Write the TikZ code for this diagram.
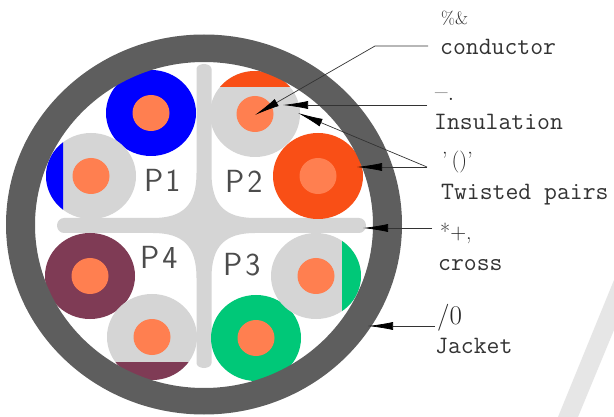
\documentclass[tikz,border=0pt]{standalone}
\usepackage{fontspec}
\usetikzlibrary{arrows.meta}
\definecolor{jacketc}{HTML}{5E5E5E}
\definecolor{crossc}{HTML}{D5D5D5}
\definecolor{coral}{HTML}{FF7F50}
\definecolor{bluec}{HTML}{0000FF}
\definecolor{redc}{HTML}{F94F16}
\definecolor{marc}{HTML}{7F3B55}
\definecolor{greenc}{HTML}{00C878}
\definecolor{markc}{HTML}{E6E6E6}
\tikzset{
 x=1pt,y=-1pt,
 ellipse radii/.style={x radius=45pt,y radius=43pt},
 core/.style={x radius=18.5pt,y radius=18pt},
 leader/.style={line width=0.7pt,black!80},
 tip/.style={-{Latex[length=25pt,width=8pt,black]}},
 lab/.style={anchor=base west,inner sep=0pt,text=black!80,font=\ttfamily\fontsize{25}{25}\selectfont},
 gar/.style={anchor=base west,inner sep=0pt,text=black!85,font=\rmfamily\fontsize{22}{22}\selectfont},
 pl/.style={anchor=base west,inner sep=0pt,text=black!70,font=\sffamily\fontsize{32}{32}\selectfont},
}
\newcommand{\fullpair}[3]{%
 \fill[#3] (#1,#2) ellipse [ellipse radii];
 \fill[coral] (#1,#2) ellipse [core];}
\begin{document}
\begin{tikzpicture}
\useasboundingbox (0,0) rectangle (614,417);
\fill[white] (0,0) rectangle (614,417);
\fill[markc] (558,417) -- (614,280) -- (614,330) -- (578,417) -- cycle;
% cross spacer
\fill[crossc] (204,226) ++(-7.5,-157)
  arc[start angle=180,end angle=0,x radius=7.5pt,y radius=5pt]
  -- (211.5,173) .. controls (211.5,205) and (225,218) .. (255,218)
  -- (359,218) arc[start angle=90,end angle=-90,x radius=7pt,y radius=7.5pt]
  -- (255,233) .. controls (225,233) and (211.5,246) .. (211.5,278)
  -- (211.5,363) arc[start angle=0,end angle=-180,x radius=7.5pt,y radius=5pt]
  -- (196.5,278) .. controls (196.5,246) and (183,233) .. (153,233)
  -- (64,233) arc[start angle=270,end angle=90,x radius=7pt,y radius=7.5pt]
  -- (153,218) .. controls (183,218) and (196.5,205) .. (196.5,173) -- cycle;
% pairs
\fullpair{151}{113}{bluec}
\fullpair{318}{176}{redc}
\fullpair{90}{276}{marc}
\fullpair{256}{338}{greenc}
% gray P1
\fill[crossc] (91,176) ellipse [ellipse radii];
\begin{scope}\clip (0,0) rectangle (63,417);\fill[bluec] (91,176) ellipse [ellipse radii];\end{scope}
\fill[coral] (91,176) ellipse [core];
% gray P2
\fill[crossc] (255,114) ellipse [ellipse radii];
\begin{scope}\clip (0,0) rectangle (614,87);\fill[redc] (255,114) ellipse [ellipse radii];\end{scope}
\fill[coral] (255,114) ellipse [core];
% gray P3
\fill[crossc] (316,276) ellipse [ellipse radii];
\begin{scope}\clip (342,0) rectangle (614,417);\fill[greenc] (316,276) ellipse [ellipse radii];\end{scope}
\fill[coral] (316,276) ellipse [core];
% gray P4
\fill[crossc] (152,337) ellipse [ellipse radii];
\begin{scope}\clip (0,362) rectangle (614,417);\fill[marc] (152,337) ellipse [ellipse radii];\end{scope}
\fill[coral] (152,337) ellipse [core];
% jacket
\fill[jacketc,even odd rule] (204,224.5) ellipse [x radius=198pt,y radius=190pt]
  (204,225) ellipse [x radius=169pt,y radius=163pt];
% pair labels
\node[pl] (p1) at (144,192) {P\hspace{2pt}1};
\node[pl] (p2) at (225,193) {P\hspace{3pt}2};
\node[pl] (p3) at (223,276) {P\hspace{3pt}3};
\node[pl] (p4) at (140,269) {P\hspace{3pt}4};
% texts
\node[gar,font=\rmfamily\fontsize{18}{18}\selectfont] (t1a) at (441,25) {\%\&};
\node[lab] (t1b) at (440,55) {conductor};
\node[gar,font=\rmfamily\fontsize{27}{27}\selectfont] (t2a) at (435,101) {–.};
\node[lab] (t2b) at (434,130) {Insulation};
\node[gar] (t3a) at (442,168) {'\hspace{4pt}()'};
\node[lab] (t3b) at (441,200) {Twisted pairs};
\node[gar] (t4a) at (440,240) {*+,};
\node[lab] (t4b) at (438,270) {cross};
\node[gar,font=\rmfamily\fontsize{27}{27}\selectfont] (t5a) at (437,324) {/0};
\node[lab] (t5b) at (435,353) {Jacket};
% connectors
\coordinate (c1) at (428,46);\coordinate (c1k) at (375,46);\coordinate (c1t) at (255,115);
\coordinate (c2) at (427,105);\coordinate (c2t) at (283,105);
\coordinate (c3) at (427,167);\coordinate (c3a) at (298,113);\coordinate (c3b) at (357,167);
\coordinate (c4) at (432,228);\coordinate (c4t) at (363,228);
\coordinate (c5) at (435,326);\coordinate (c5t) at (368,326);
\draw[leader,tip] (c1) -- (c1k) -- (c1t);
\draw[leader,tip] (c2) -- (c2t);
\draw[leader,tip] (c3) -- (c3a);
\draw[leader,tip] (c3) -- (c3b);
\draw[leader,tip] (c4) -- (c4t);
\draw[leader,tip] (c5) -- (c5t);
\end{tikzpicture}
\end{document}
